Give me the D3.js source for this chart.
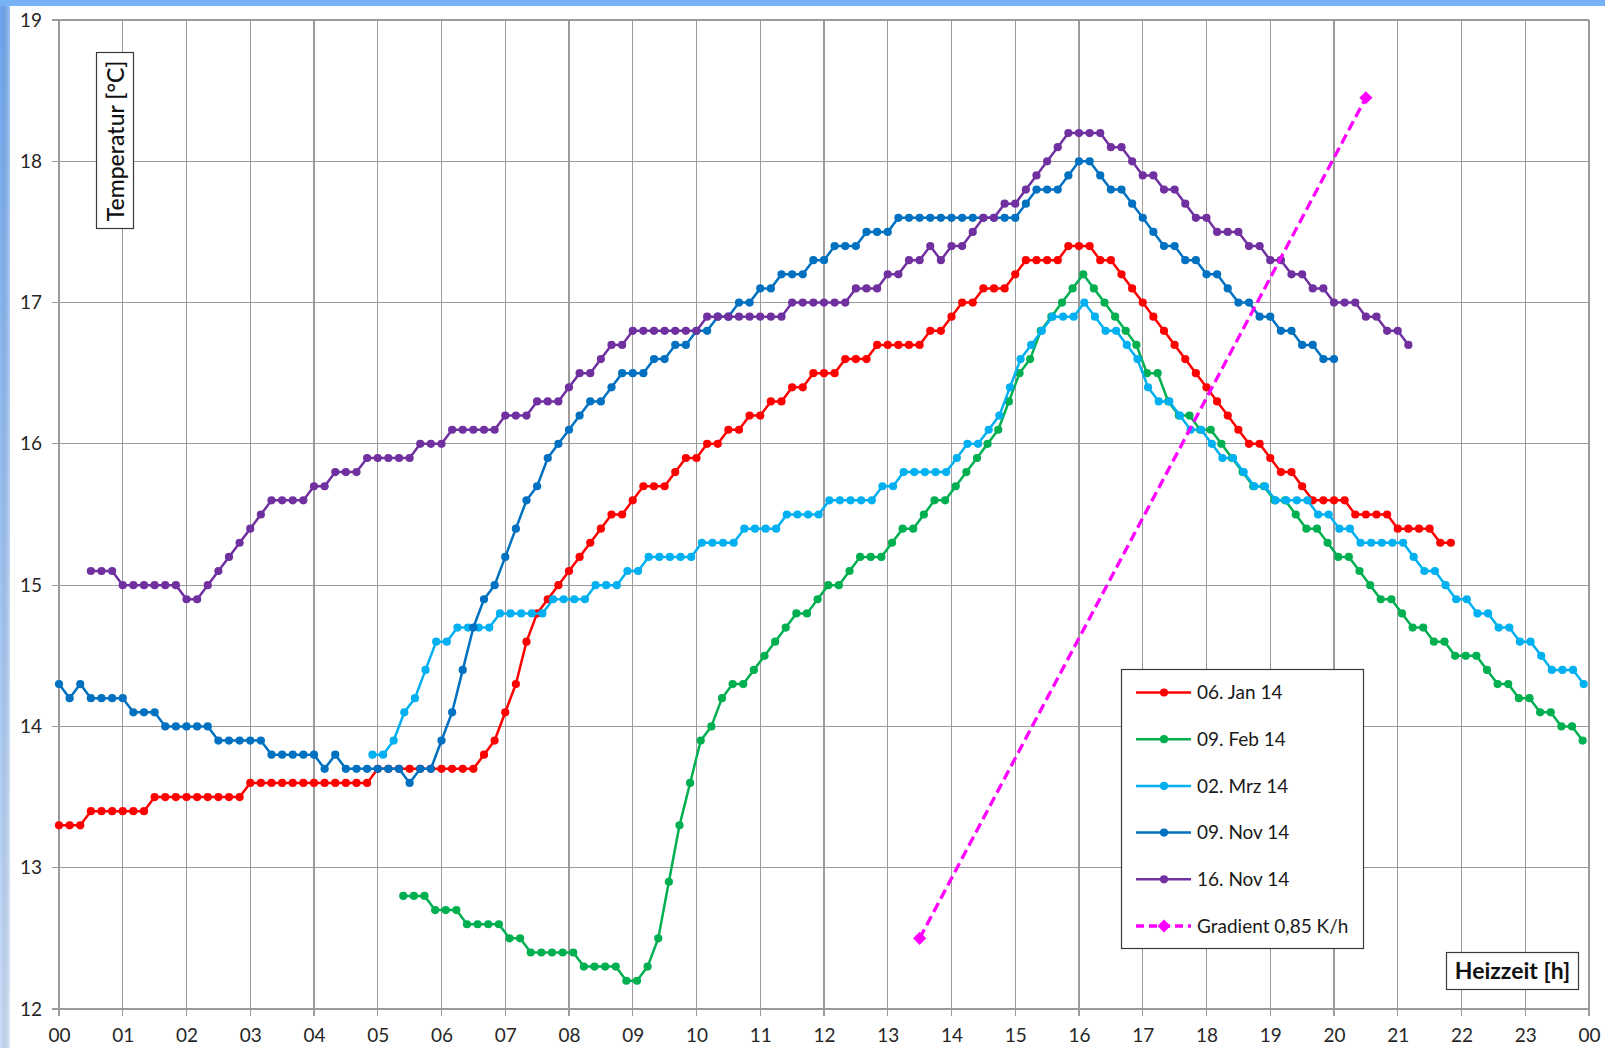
<!DOCTYPE html>
<html><head><meta charset="utf-8">
<script src="https://cdn.jsdelivr.net/npm/d3@7"></script>
<style>body{margin:0;background:#fff;} svg{display:block;}</style>
</head><body><svg id="c" width="1605" height="1048"></svg>
<script>
// ---- data ----
const hourLabels = ["00","01","02","03","04","05","06","07","08","09","10","11","12","13","14","15","16","17","18","19","20","21","22","23","00"];
const tempTicks = [12,13,14,15,16,17,18,19];
const seriesNames = ["06. Jan 14","09. Feb 14","02. Mrz 14","09. Nov 14","16. Nov 14"];
const seriesColors = ["#ff0000","#00b050","#00b0f0","#0070c0","#7030a0"];
const seriesStart = ["00:00","05:24","04:55","00:00","00:30"]; // first reading, then every 10 min
const stepMinutes = 10;

const jan06 = [13.3,13.3,13.3,
 13.4,13.4,13.4,13.4,13.4,13.4,
 13.5,13.5,13.5,13.5,13.5,13.5,13.5,13.5,13.5,
 13.6,13.6,13.6,13.6,13.6,13.6,13.6,13.6,13.6,13.6,13.6,13.6,
 13.7,13.7,13.7,13.7,13.7,13.7,13.7,13.7,13.7,13.7,
 13.8,13.9,14.1,14.3,14.6,14.8,14.9,15.0,15.1,15.2,15.3,15.4,15.5,15.5,15.6,
 15.7,15.7,15.7,15.8,15.9,15.9,16.0,16.0,16.1,16.1,16.2,16.2,16.3,16.3,16.4,16.4,
 16.5,16.5,16.5,16.6,16.6,16.6,16.7,16.7,16.7,16.7,16.7,16.8,16.8,16.9,17.0,17.0,
 17.1,17.1,17.1,17.2,17.3,17.3,17.3,17.3,17.4,17.4,17.4,17.3,17.3,17.2,17.1,17.0,
 16.9,16.8,16.7,16.6,16.5,16.4,16.3,16.2,16.1,16.0,16.0,15.9,15.8,15.8,15.7,
 15.6,15.6,15.6,15.6,15.5,15.5,15.5,15.5,15.4,15.4,15.4,15.4,15.3,15.3];

const feb09 = [12.8,12.8,12.8,
 12.7,12.7,12.7,
 12.6,12.6,12.6,12.6,
 12.5,12.5,
 12.4,12.4,12.4,12.4,12.4,
 12.3,12.3,12.3,12.3,
 12.2,12.2,
 12.3,12.5,12.9,13.3,13.6,13.9,14.0,14.2,
 14.3,14.3,14.4,14.5,14.6,14.7,14.8,14.8,14.9,15.0,15.0,15.1,
 15.2,15.2,15.2,15.3,15.4,15.4,15.5,15.6,15.6,
 15.7,15.8,15.9,16.0,16.1,16.3,16.5,16.6,16.8,16.9,17.0,17.1,17.2,
 17.1,17.0,16.9,16.8,16.7,16.5,16.5,16.3,16.2,16.2,16.1,16.1,16.0,15.9,15.8,15.7,15.7,
 15.6,15.6,15.5,15.4,15.4,15.3,15.2,15.2,15.1,15.0,14.9,14.9,
 14.8,14.7,14.7,14.6,14.6,14.5,14.5,14.5,14.4,14.3,14.3,14.2,14.2,14.1,14.1,14.0,14.0,13.9];

const mrz02 = [13.8,13.8,13.9,14.1,14.2,14.4,14.6,14.6,
 14.7,14.7,14.7,14.7,
 14.8,14.8,14.8,14.8,14.8,
 14.9,14.9,14.9,14.9,
 15.0,15.0,15.0,
 15.1,15.1,
 15.2,15.2,15.2,15.2,15.2,
 15.3,15.3,15.3,15.3,
 15.4,15.4,15.4,15.4,
 15.5,15.5,15.5,15.5,
 15.6,15.6,15.6,15.6,15.6,
 15.7,15.7,
 15.8,15.8,15.8,15.8,15.8,
 15.9,16.0,16.0,16.1,16.2,16.4,16.6,16.7,16.8,16.9,16.9,16.9,17.0,
 16.9,16.8,16.8,16.7,16.6,16.4,16.3,16.3,16.2,16.1,16.1,16.0,15.9,15.9,15.8,15.7,15.7,
 15.6,15.6,15.6,15.6,15.5,15.5,15.4,15.4,
 15.3,15.3,15.3,15.3,15.3,15.2,15.1,15.1,15.0,
 14.9,14.9,14.8,14.8,14.7,14.7,14.6,14.6,14.5,14.4,14.4,14.4,14.3];

const nov09 = [14.3,14.2,14.3,14.2,14.2,14.2,14.2,
 14.1,14.1,14.1,
 14.0,14.0,14.0,14.0,14.0,
 13.9,13.9,13.9,13.9,13.9,
 13.8,13.8,13.8,13.8,13.8,
 13.7,13.8,
 13.7,13.7,13.7,13.7,13.7,13.7,
 13.6,13.7,13.7,
 13.9,14.1,14.4,14.7,14.9,15.0,15.2,15.4,15.6,15.7,15.9,16.0,16.1,16.2,16.3,16.3,16.4,
 16.5,16.5,16.5,16.6,16.6,16.7,16.7,16.8,16.8,16.9,16.9,17.0,17.0,17.1,17.1,
 17.2,17.2,17.2,17.3,17.3,17.4,17.4,17.4,17.5,17.5,17.5,
 17.6,17.6,17.6,17.6,17.6,17.6,17.6,17.6,17.6,17.6,17.6,17.6,
 17.7,17.8,17.8,17.8,17.9,18.0,18.0,17.9,17.8,17.8,17.7,17.6,17.5,17.4,17.4,
 17.3,17.3,17.2,17.2,17.1,17.0,17.0,16.9,16.9,16.8,16.8,16.7,16.7,16.6,16.6];

const nov16 = [15.1,15.1,15.1,
 15.0,15.0,15.0,15.0,15.0,15.0,
 14.9,14.9,15.0,15.1,15.2,15.3,15.4,15.5,
 15.6,15.6,15.6,15.6,15.7,15.7,15.8,15.8,15.8,
 15.9,15.9,15.9,15.9,15.9,16.0,16.0,16.0,
 16.1,16.1,16.1,16.1,16.1,16.2,16.2,16.2,16.3,16.3,16.3,16.4,16.5,16.5,16.6,16.7,16.7,
 16.8,16.8,16.8,16.8,16.8,16.8,16.8,
 16.9,16.9,16.9,16.9,16.9,16.9,16.9,16.9,
 17.0,17.0,17.0,17.0,17.0,17.0,
 17.1,17.1,17.1,17.2,17.2,17.3,17.3,17.4,17.3,17.4,17.4,17.5,17.6,17.6,17.7,17.7,17.8,17.9,18.0,18.1,
 18.2,18.2,18.2,18.2,18.1,18.1,18.0,17.9,17.9,17.8,17.8,17.7,17.6,17.6,17.5,17.5,17.5,
 17.4,17.4,17.3,17.3,17.2,17.2,17.1,17.1,17.0,17.0,17.0,16.9,16.9,16.8,16.8,16.7];

const gradientLabel = "Gradient 0,85 K/h";
const gradientColor = "#ff00ff";
const gradientHours = [13.5, 20.5];
const gradientTemps = [12.5, 18.45];

const yTitle = "Temperatur [°C]";
const xTitle = "Heizzeit [h]";

// ---- build ----
const seriesValues = [jan06, feb09, mrz02, nov09, nov16];
const toHours = s => { const [h,m] = s.split(":").map(Number); return h + m/60; };
const series = seriesValues.map((vals,i) => ({
  name: seriesNames[i], color: seriesColors[i],
  pts: vals.map((v,j) => ({h: toHours(seriesStart[i]) + j*stepMinutes/60, v}))
}));

const svg = d3.select("#c");
const W = 1605, H = 1048;
const L = 59, R = 1589, T = 20, B = 1009;
const x = d3.scaleLinear().domain([0,24]).range([L,R]);
const y = d3.scaleLinear().domain([12,19]).range([B,T]);
const FONT = "Lato, 'Open Sans', sans-serif";

// frame decoration
const defs = svg.append("defs");
const lg = defs.append("linearGradient").attr("id","sideg").attr("x1",0).attr("y1",0).attr("x2",0).attr("y2",1);
lg.append("stop").attr("offset","0%").attr("stop-color","#6ea9f4");
lg.append("stop").attr("offset","100%").attr("stop-color","#cfe2fd");
const lg2 = defs.append("linearGradient").attr("id","sideh").attr("x1",0).attr("y1",0).attr("x2",1).attr("y2",0);
lg2.append("stop").attr("offset","0%").attr("stop-color","#000").attr("stop-opacity",0);
lg2.append("stop").attr("offset","100%").attr("stop-color","#fff").attr("stop-opacity",0.35);
svg.append("rect").attr("x",0).attr("y",0).attr("width",W).attr("height",H).attr("fill","#fff");
svg.append("rect").attr("x",0).attr("y",0).attr("width",10).attr("height",H).attr("fill","url(#sideg)");
svg.append("rect").attr("x",0).attr("y",0).attr("width",10).attr("height",H).attr("fill","url(#sideh)");
svg.append("rect").attr("x",0).attr("y",0).attr("width",W).attr("height",6).attr("fill","#78b2f6");

// grid
const gridColor = "#9b9b9b";
const hourVals = d3.range(0, hourLabels.length);
svg.append("g").selectAll("line").data(hourVals).join("line")
  .attr("x1", d=>x(d)).attr("x2", d=>x(d)).attr("y1", T).attr("y2", B + 7)
  .attr("stroke", gridColor).attr("stroke-width", 1.2).attr("shape-rendering","crispEdges");
svg.append("g").selectAll("line").data(tempTicks).join("line")
  .attr("x1", L - 7).attr("x2", R).attr("y1", d=>y(d)).attr("y2", d=>y(d))
  .attr("stroke", gridColor).attr("stroke-width", 1.2).attr("shape-rendering","crispEdges");

// axes labels via d3 axes
const xAxis = d3.axisBottom(x).tickValues(hourVals).tickFormat((d,i)=>hourLabels[i]).tickSize(0).tickPadding(20);
const gx = svg.append("g").attr("transform",`translate(0,${B})`).call(xAxis);
gx.select(".domain").remove();
gx.selectAll("text").attr("font-family",FONT).attr("font-size",19).attr("fill","#262626");
const yAxis = d3.axisLeft(y).tickValues(tempTicks).tickFormat(d=>String(d)).tickSize(0).tickPadding(17);
const gy = svg.append("g").attr("transform",`translate(${L},0)`).call(yAxis);
gy.select(".domain").remove();
gy.selectAll("text").attr("font-family",FONT).attr("font-size",19).attr("fill","#262626");

// series (first drawn at bottom)
const line = d3.line().x(d=>x(d.h)).y(d=>y(d.v));
series.forEach(s => {
  const g = svg.append("g");
  g.append("path").attr("d", line(s.pts)).attr("fill","none").attr("stroke", s.color)
    .attr("stroke-width", 2.5).attr("stroke-linejoin","round");
  g.selectAll("circle").data(s.pts).join("circle")
    .attr("cx", d=>x(d.h)).attr("cy", d=>y(d.v)).attr("r", 4.1).attr("fill", s.color);
});

// gradient line
const gpts = gradientHours.map((h,i)=>({h, v: gradientTemps[i]}));
svg.append("path").attr("d", line(gpts)).attr("fill","none").attr("stroke", gradientColor)
  .attr("stroke-width", 3.3).attr("stroke-dasharray","10,5");
const diamond = d3.symbol().type(d3.symbolDiamond2).size(110);
svg.selectAll(".gd").data(gpts).join("path").attr("class","gd")
  .attr("transform", d=>`translate(${x(d.h)},${y(d.v)})`).attr("d", diamond).attr("fill", gradientColor);

// legend
const leg = svg.append("g");
leg.append("rect").attr("x",1121.5).attr("y",669.5).attr("width",242).attr("height",279)
  .attr("fill","#fff").attr("stroke","#3a3a3a").attr("stroke-width",1.2);
const legItems = series.map(s=>({name:s.name,color:s.color,dash:null,grad:false}))
  .concat([{name:gradientLabel,color:gradientColor,dash:"8,5",grad:true}]);
legItems.forEach((it,i) => {
  const cy = 692.5 + i*46.7;
  leg.append("line").attr("x1",1136).attr("x2",1191).attr("y1",cy).attr("y2",cy)
    .attr("stroke",it.color).attr("stroke-width", it.grad?3.3:2.5).attr("stroke-dasharray", it.dash);
  if (it.grad) leg.append("path").attr("transform",`translate(1164,${cy})`).attr("d",diamond).attr("fill",it.color);
  else leg.append("circle").attr("cx",1164).attr("cy",cy).attr("r",4.1).attr("fill",it.color);
  leg.append("text").attr("x",1197).attr("y",cy).attr("dy","0.35em").attr("font-family",FONT)
    .attr("font-size",19).attr("fill","#1a1a1a").text(it.name);
});

// y title box
svg.append("rect").attr("x",96.5).attr("y",52.5).attr("width",37).attr("height",176)
  .attr("fill","#fff").attr("stroke","#3a3a3a").attr("stroke-width",1.2);
svg.append("text").attr("transform","translate(116,141) rotate(-90)").attr("text-anchor","middle")
  .attr("dy","0.35em").attr("font-family",FONT).attr("font-size",23).attr("font-weight",500).attr("fill","#111").text(yTitle);

// x title box
svg.append("rect").attr("x",1446.5).attr("y",952.5).attr("width",132).attr("height",37)
  .attr("fill","#fff").attr("stroke","#3a3a3a").attr("stroke-width",1.2);
svg.append("text").attr("x",1512.5).attr("y",971).attr("text-anchor","middle").attr("dy","0.35em")
  .attr("font-family",FONT).attr("font-size",23).attr("font-weight","bold").attr("fill","#111").text(xTitle);
</script></body></html>
